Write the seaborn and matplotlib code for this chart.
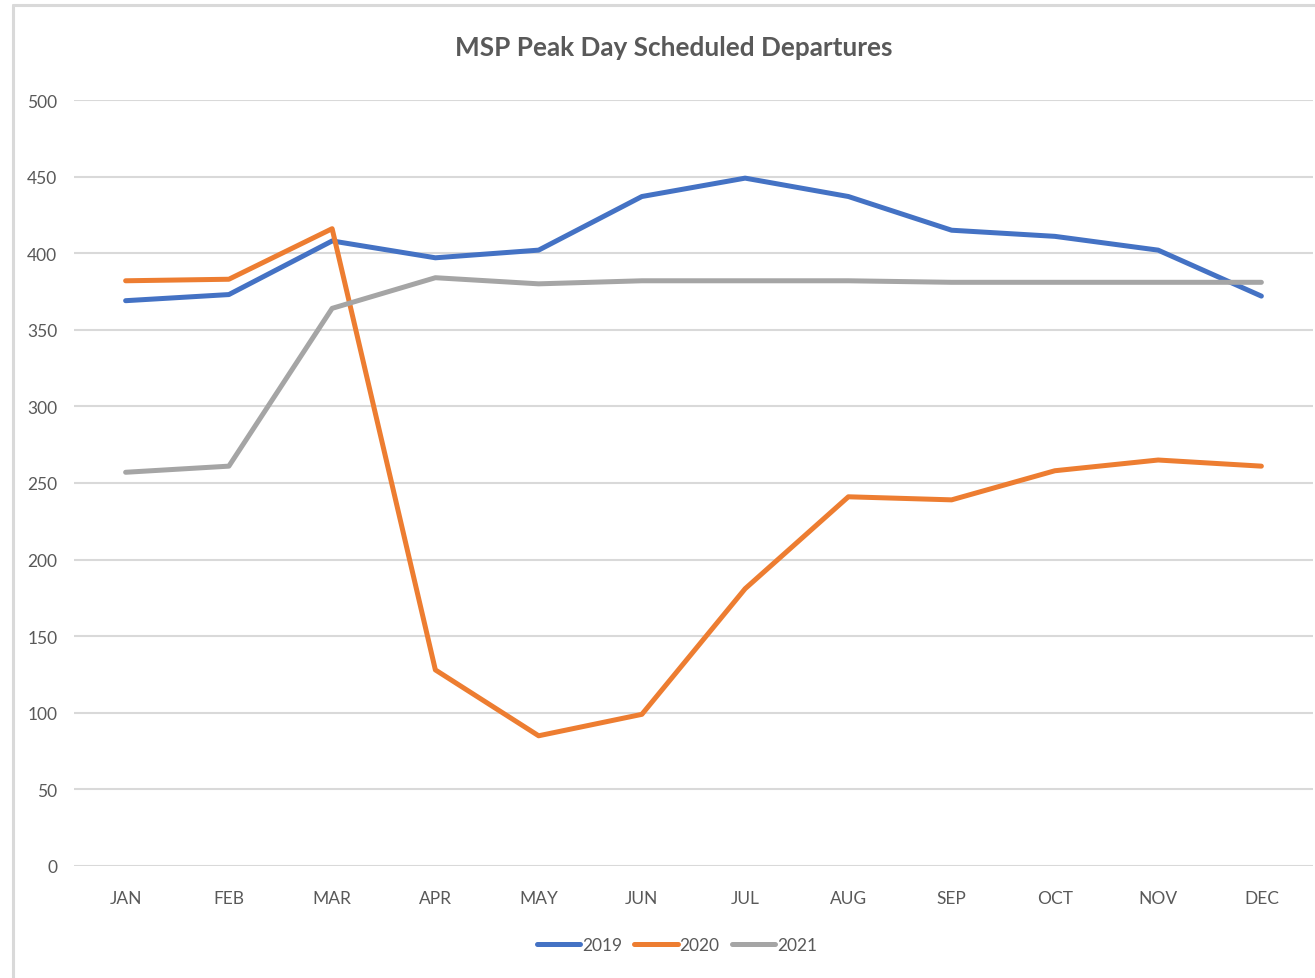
import pandas as pd
import seaborn as sns
import matplotlib.pyplot as plt
from matplotlib.lines import Line2D

months = ['JAN', 'FEB', 'MAR', 'APR', 'MAY', 'JUN', 'JUL', 'AUG', 'SEP', 'OCT', 'NOV', 'DEC']
dep_2019 = [369, 373, 408, 397, 402, 437, 449, 437, 415, 411, 402, 372]
dep_2020 = [382, 383, 416, 128, 85, 99, 181, 241, 239, 258, 265, 261]
dep_2021 = [257, 261, 364, 384, 380, 382, 382, 382, 381, 381, 381, 381]
years = ['2019', '2020', '2021']

df = pd.DataFrame({
    'month': months * 3,
    'departures': dep_2019 + dep_2020 + dep_2021,
    'year': [y for y in years for _ in months],
})

sns.set_theme(style='white')
plt.rcParams['font.family'] = ['Lato', 'DejaVu Sans']
txt = '#595959'
grid_c = '#D9D9D9'
palette = {'2019': '#4472C4', '2020': '#ED7D31', '2021': '#A5A5A5'}

fig = plt.figure(figsize=(13.15, 9.79), dpi=100)
ax = fig.add_axes([74 / 1315, 112 / 979, 1239 / 1315, 766 / 979])

sns.lineplot(data=df, x='month', y='departures', hue='year', palette=palette,
             linewidth=3.6, sort=False, ax=ax, legend=False,
             solid_capstyle='round', solid_joinstyle='round')

ax.set_xlim(-0.5, 11.5)
ax.set_ylim(0, 500)
ax.set_yticks(range(0, 501, 50))
ax.yaxis.grid(True, color=grid_c, linewidth=1.5)
ax.set_axisbelow(True)
for s in ax.spines.values():
    s.set_visible(False)
ax.tick_params(axis='y', length=0, pad=12, labelsize=12.5, labelcolor=txt)
ax.tick_params(axis='x', length=0, pad=17, labelsize=12.5, labelcolor=txt)
ax.set_xlabel('')
ax.set_ylabel('')

fig.text(674 / 1315, 1 - 48 / 979, 'MSP Peak Day Scheduled Departures',
         ha='center', va='center', fontsize=18.8, fontweight='bold', color=txt)

handles = [Line2D([], [], color=palette[y], linewidth=3.6, solid_capstyle='round') for y in years]
fig.legend(handles, years, loc='center', bbox_to_anchor=(677 / 1315, 1 - 946 / 979),
           ncol=3, frameon=False, fontsize=12.5, labelcolor=txt,
           handlelength=2.5, handletextpad=0.1, columnspacing=0.7)

# chart-area border (top and left edges visible)
fig.add_artist(Line2D([13 / 1315, 1], [1 - 6 / 979] * 2, transform=fig.transFigure,
                      color=grid_c, linewidth=2.2))
fig.add_artist(Line2D([13 / 1315] * 2, [0, 1 - 6 / 979], transform=fig.transFigure,
                      color=grid_c, linewidth=2.2))

plt.savefig('out.png', dpi=100, facecolor='white')
